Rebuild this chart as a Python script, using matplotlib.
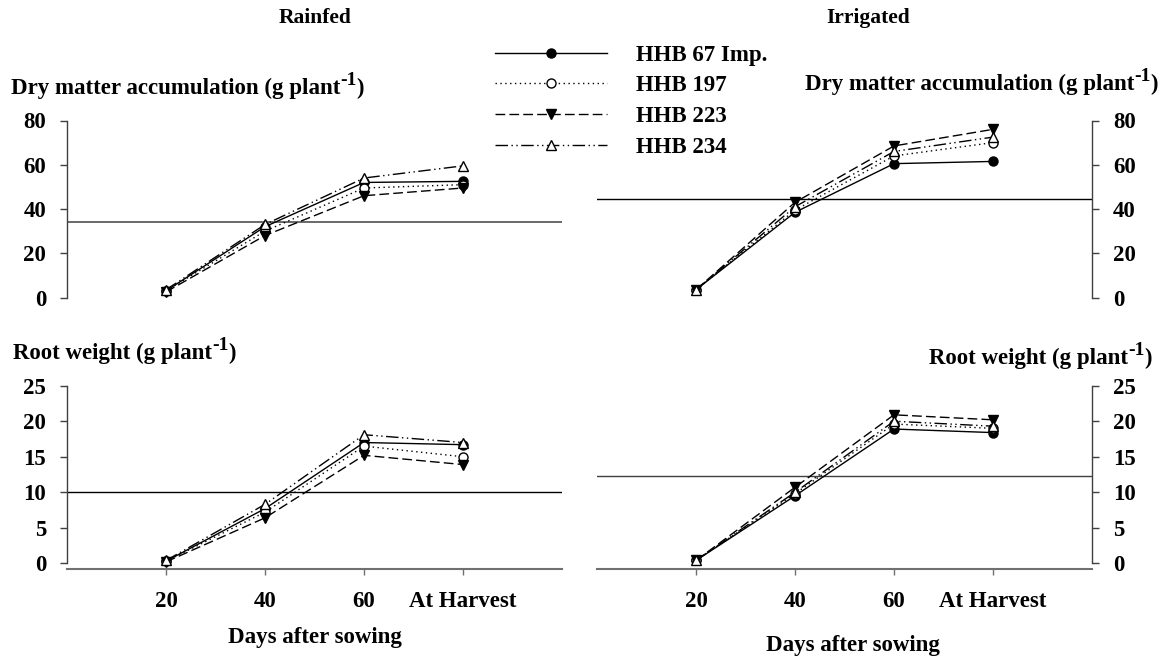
import matplotlib
matplotlib.use("Agg")
import matplotlib.pyplot as plt

plt.rcParams['font.family'] = ['Liberation Serif', 'DejaVu Serif']
plt.rcParams['font.weight'] = 'bold'

# ---- data ----
stages = ["20", "40", "60", "At Harvest"]
varieties = ["HHB 67 Imp.", "HHB 197", "HHB 223", "HHB 234"]

dm_rainfed = {
    "HHB 67 Imp.": [3.0, 32.0, 52.0, 52.5],
    "HHB 197":     [3.0, 30.0, 49.5, 51.0],
    "HHB 223":     [2.5, 28.0, 46.0, 49.5],
    "HHB 234":     [3.5, 33.0, 54.0, 59.5],
}
dm_irrigated = {
    "HHB 67 Imp.": [3.5, 38.5, 60.5, 61.5],
    "HHB 197":     [3.5, 39.5, 64.0, 70.0],
    "HHB 223":     [3.5, 43.0, 68.5, 76.0],
    "HHB 234":     [3.5, 41.0, 66.0, 72.5],
}
root_rainfed = {
    "HHB 67 Imp.": [0.3, 7.7, 17.0, 16.7],
    "HHB 197":     [0.3, 7.2, 16.5, 15.0],
    "HHB 223":     [0.2, 6.4, 15.2, 13.9],
    "HHB 234":     [0.4, 8.3, 18.1, 17.0],
}
root_irrigated = {
    "HHB 67 Imp.": [0.4, 9.5, 18.9, 18.4],
    "HHB 197":     [0.4, 9.8, 19.6, 19.0],
    "HHB 223":     [0.4, 10.7, 20.9, 20.2],
    "HHB 234":     [0.4, 10.0, 20.0, 19.3],
}
# horizontal reference lines: DM rainfed, DM irrigated, root rainfed, root irrigated
ref_lines = [34.3, 44.5, 10.0, 12.35]

dm_ticks = [0, 20, 40, 60, 80]
root_ticks = [0, 5, 10, 15, 20, 25]

styles = {
    "HHB 67 Imp.": dict(linestyle='-', marker='o', mfc='black', mec='black'),
    "HHB 197":     dict(linestyle=(0, (1, 2.5)), marker='o', mfc='white', mec='black'),
    "HHB 223":     dict(linestyle=(0, (7, 3)), marker='v', mfc='black', mec='black'),
    "HHB 234":     dict(linestyle=(0, (9, 2.5, 1, 2.5, 1, 2.5)), marker='^', mfc='white', mec='black'),
}

W, H = 1168, 656
fig = plt.figure(figsize=(W / 100, H / 100), dpi=100)
renderer = fig.canvas.get_renderer()

def fx(px):
    return px / W

def fy(py):
    return 1 - py / H

FS = 16.5
spine_col = '#404040'
xpos = [1, 2, 3, 4]

def make_ax(left_px, top_px, bottom_px, side, top_panel):
    ax = fig.add_axes([fx(left_px), fy(bottom_px), fx(495), (bottom_px - top_px) / H])
    ax.set_xlim(0, 5)
    for s in ['top', 'left', 'right', 'bottom']:
        ax.spines[s].set_visible(False)
    ax.spines[side].set_visible(True)
    ax.spines[side].set_color(spine_col)
    ax.spines[side].set_linewidth(1.0)
    ax.yaxis.set_ticks_position(side)
    ax.tick_params(axis='y', direction='out', length=5, width=1, color=spine_col,
                   labelsize=FS, pad=10)
    if top_panel:
        ax.set_xticks([])
    else:
        ax.spines['bottom'].set_visible(True)
        ax.spines['bottom'].set_color('#707070')
        ax.spines['bottom'].set_linewidth(1.5)
        ax.set_xticks(xpos)
        ax.set_xticklabels(stages)
        ax.tick_params(axis='x', direction='out', length=4, width=1, color='#707070',
                       labelsize=FS, pad=12)
    for lab in ax.get_xticklabels() + ax.get_yticklabels():
        lab.set_fontweight('bold')
    return ax

def plot_series(ax, data):
    handles = []
    for v in varieties:
        st = styles[v]
        h, = ax.plot(xpos, data[v], color='black', lw=1.0, ms=6.5, mew=1.0,
                     linestyle=st['linestyle'], marker=st['marker'],
                     mfc=st['mfc'], mec=st['mec'], label=v, clip_on=False)
        handles.append(h)
    return handles

# top-left
ax1 = make_ax(67, 120.5, 297.5, 'left', True)
ax1.set_ylim(0, 80)
ax1.set_yticks(dm_ticks)
ax1.spines['left'].set_bounds(0, 80)
ax1.axhline(ref_lines[0], color='#505050', lw=1.2)
handles = plot_series(ax1, dm_rainfed)

# top-right
ax2 = make_ax(597, 120.5, 297.5, 'right', True)
ax2.set_ylim(0, 80)
ax2.set_yticks(dm_ticks)
ax2.spines['right'].set_bounds(0, 80)
ax2.axhline(ref_lines[1], color='black', lw=1.0)
plot_series(ax2, dm_irrigated)

# bottom-left
ax3 = make_ax(67, 385.7, 569, 'left', False)
ax3.set_ylim(-0.8, 25)
ax3.set_yticks(root_ticks)
ax3.spines['left'].set_bounds(0, 25)
ax3.axhline(ref_lines[2], color='black', lw=1.0)
plot_series(ax3, root_rainfed)

# bottom-right
ax4 = make_ax(597, 385.7, 569, 'right', False)
ax4.set_ylim(-0.8, 25)
ax4.set_yticks(root_ticks)
ax4.spines['right'].set_bounds(0, 25)
ax4.axhline(ref_lines[3], color='#404040', lw=1.0)
plot_series(ax4, root_irrigated)


def unit_label(main, x_px, y_px, align):
    """Label like 'Main (g plant' + superscript '-1' + ')'."""
    parts = [(main + " (g plant", FS, 0), ("-1", FS * 0.85, 9), (")", FS, 0)]
    texts = []
    x = x_px
    for s, size, dy in parts:
        t = fig.text(fx(x), fy(y_px - dy), s, ha='left', va='baseline',
                     fontsize=size, fontweight='bold')
        bb = t.get_window_extent(renderer)
        x += bb.width
        texts.append(t)
    total = x - x_px
    if align == 'right':
        for t in texts:
            px, py = t.get_position()
            t.set_position((px - total / W, py))

unit_label("Dry matter accumulation", 11, 94, 'left')
unit_label("Dry matter accumulation", 1158, 90, 'right')
unit_label("Root weight", 13, 359, 'left')
unit_label("Root weight", 1152, 364, 'right')

fig.text(fx(315), fy(18), "Rainfed", ha='center', va='center', fontsize=FS - 1, fontweight='bold')
fig.text(fx(868), fy(18), "Irrigated", ha='center', va='center', fontsize=FS - 1, fontweight='bold')
fig.text(fx(315), fy(638), "Days after sowing", ha='center', va='center',
         fontsize=FS, fontweight='bold')
fig.text(fx(853), fy(645), "Days after sowing", ha='center', va='center',
         fontsize=FS, fontweight='bold')

leg = fig.legend(handles=handles, labels=varieties, loc='upper left',
                 bbox_to_anchor=(fx(495), fy(44.5)), frameon=False,
                 borderpad=0, borderaxespad=0, handlelength=4.9, handletextpad=1.25,
                 labelspacing=0.43, numpoints=1, prop={'size': FS, 'weight': 'bold'})

fig.savefig("out.png", dpi=100)
